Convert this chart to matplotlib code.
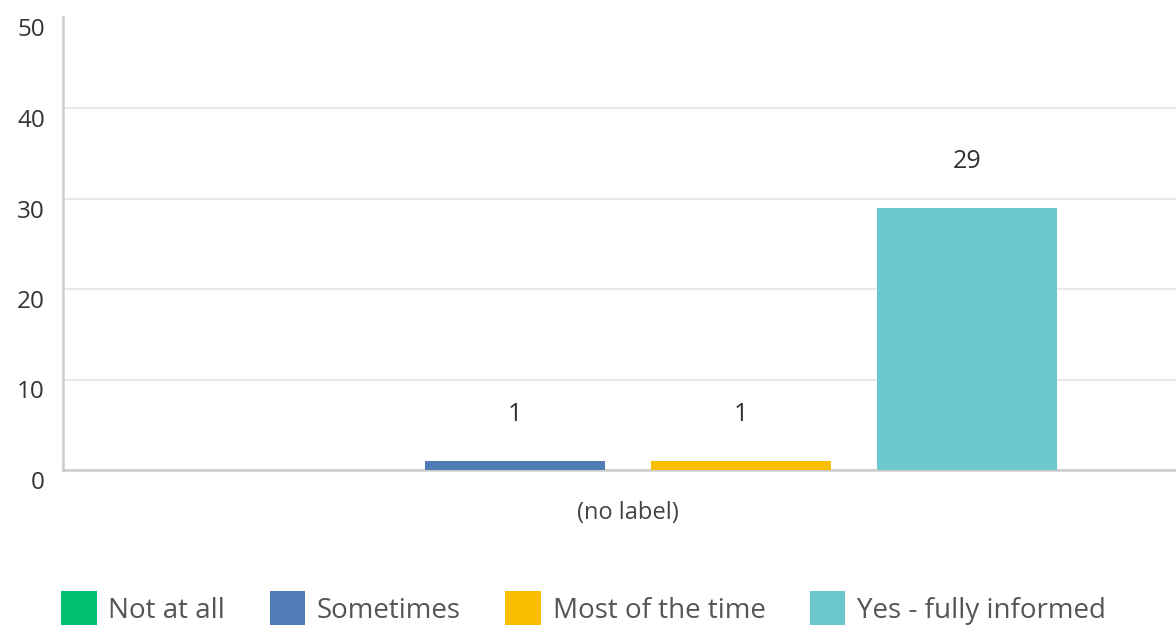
import matplotlib
matplotlib.use("Agg")
import matplotlib.pyplot as plt
from matplotlib.patches import Patch
from matplotlib.transforms import ScaledTranslation

categories = ["(no label)"]
series_names = ["Not at all", "Sometimes", "Most of the time", "Yes - fully informed"]
series_values = [0, 1, 1, 29]
series_colors = ["#00BF6F", "#507CB6", "#F9BE00", "#6BC8CD"]
y_ticks = [0, 10, 20, 30, 40, 50]

plt.rcParams['font.family'] = ['Open Sans', 'DejaVu Sans']

fig = plt.figure(figsize=(11.76, 6.25), dpi=100)
ax = fig.add_axes([63/1176, 155/625, 1113/1176, 452.5/625])

group_w = 0.2
bar_w = 0.16
n = len(series_names)
for i, (name, val, col) in enumerate(zip(series_names, series_values, series_colors)):
    x = 0 + (i - (n - 1) / 2) * group_w
    ax.bar(x, val, width=bar_w, color=col, zorder=3)
    if val > 0:
        ax.annotate(str(val), (x, val), xytext=(0, 46), textcoords='offset pixels',
                    ha='center', va='center', fontsize=18, color='#333333')

ax.set_xlim(-0.5, 0.485)
ax.set_ylim(0, 50)
ax.set_yticks(y_ticks)
ax.set_xticks([0])
ax.set_xticklabels(categories, fontsize=17, color='#444444')
ax.tick_params(axis='x', length=0, pad=22)
ax.tick_params(axis='y', length=0, pad=13, labelsize=17.5, labelcolor='#333333')
off = ScaledTranslation(0, -10/100, fig.dpi_scale_trans)
for lab in ax.get_yticklabels():
    lab.set_transform(lab.get_transform() + off)

ax.grid(axis='y', color='#e8e8e8', linewidth=1.5, zorder=0)
gl = ax.yaxis.get_gridlines()
gl[-1].set_visible(False)
for s in ['top', 'right']:
    ax.spines[s].set_visible(False)
for s in ['left', 'bottom']:
    ax.spines[s].set_color('#cccccc')
    ax.spines[s].set_linewidth(1.8)

handles = [Patch(facecolor=c, edgecolor='none', label=nm) for nm, c in zip(series_names, series_colors)]
leg = fig.legend(handles=handles, loc='lower left', bbox_to_anchor=(50/1176, -12/625), ncol=4,
                 frameon=False, fontsize=20, handlelength=1.28, handleheight=1.55,
                 handletextpad=0.42, columnspacing=1.6, borderaxespad=0)
for t in leg.get_texts():
    t.set_color('#555555')

fig.savefig('out.png', dpi=100)
